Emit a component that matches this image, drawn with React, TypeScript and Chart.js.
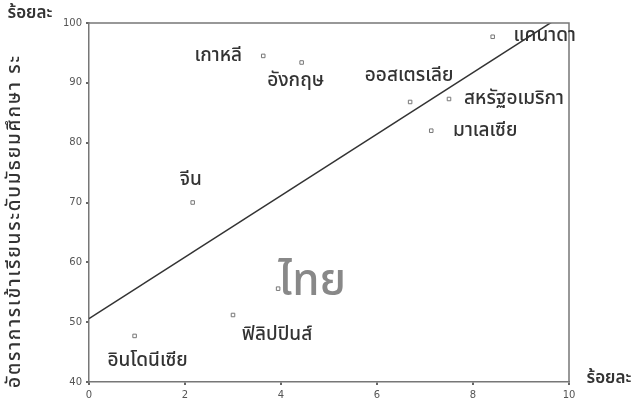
import React, { useEffect, useRef } from "react";
import { Chart, registerables } from "chart.js";

Chart.register(...registerables);

const countries = ["เกาหลี", "อังกฤษ", "จีน", "ไทย", "ฟิลิปปินส์", "อินโดนีเซีย", "แคนาดา", "ออสเตรเลีย", "สหรัฐอเมริกา", "มาเลเซีย"];
const xValues = [3.63, 4.43, 2.16, 3.94, 3.0, 0.95, 8.41, 6.69, 7.5, 7.13];
const yValues = [94.5, 93.4, 70.0, 55.6, 51.2, 47.7, 97.7, 86.8, 87.3, 82.0];
const trendX = [0, 9.65];
const trendY = [50.6, 100.2];
const xTicks = [0, 2, 4, 6, 8, 10];
const yTicks = [40, 50, 60, 70, 80, 90, 100];
const unitLabel = "ร้อยละ";
const yTitle = "อัตราการเข้าเรียนระดับมัธยมศึกษา ระ";

// label layout: pixel offsets of label centre from its point
const labelDx = [-45, -6, -2, 34, 44, 13, 52, -1, 65, 54];
const labelDy = [1, 20, -21, -3, 21, 26, 0, -25, 1, 1];

const THAI = "'Noto Sans Thai', 'Noto Sans', 'DejaVu Sans', sans-serif";

const labelPlugin = {
  id: "labels",
  afterDraw(chart: any) {
    const { ctx, chartArea, scales } = chart;
    ctx.save();
    ctx.strokeStyle = "#777";
    ctx.lineWidth = 1.5;
    ctx.beginPath();
    ctx.moveTo(chartArea.left, chartArea.top);
    ctx.lineTo(chartArea.right, chartArea.top);
    ctx.lineTo(chartArea.right, chartArea.bottom);
    ctx.stroke();
    ctx.textAlign = "center";
    ctx.textBaseline = "middle";
    countries.forEach((name, i) => {
      const px = scales.x.getPixelForValue(xValues[i]);
      const py = scales.y.getPixelForValue(yValues[i]);
      if (name === "ไทย") {
        ctx.fillStyle = "#888";
        ctx.font = `500 44px ${THAI}`;
      } else {
        ctx.fillStyle = "#333";
        ctx.font = `500 19px ${THAI}`;
      }
      ctx.fillText(name, px + labelDx[i], py + labelDy[i]);
    });
    ctx.fillStyle = "#333";
    ctx.font = `600 17px ${THAI}`;
    ctx.fillText(unitLabel, 30, 15);
    ctx.fillText(unitLabel, 609, 380);
    ctx.translate(16, 221);
    ctx.rotate(-Math.PI / 2);
    ctx.font = `500 19px ${THAI}`;
    (ctx as any).letterSpacing = "1.8px";
    ctx.fillText(yTitle, 0, 0);
    ctx.restore();
  },
};

export default function App() {
  const ref = useRef<HTMLCanvasElement>(null);
  useEffect(() => {
    document.body.style.margin = "0";
    const chart = new Chart(ref.current!, {
      type: "scatter",
      data: {
        datasets: [
          {
            data: xValues.map((x, i) => ({ x, y: yValues[i] })),
            pointStyle: "rect",
            radius: 2.5,
            borderColor: "#777",
            borderWidth: 1,
            backgroundColor: "#fff",
            showLine: false,
          },
          {
            data: trendX.map((x, i) => ({ x, y: trendY[i] })),
            showLine: true,
            borderColor: "#333",
            borderWidth: 1.5,
            pointRadius: 0,
            fill: false,
          } as any,
        ],
      },
      options: {
        animation: false,
        responsive: false,
        devicePixelRatio: 1,
        layout: { padding: { left: 0, right: 67, top: 23, bottom: 0 } },
        plugins: { legend: { display: false }, tooltip: { enabled: false } },
        scales: {
          x: {
            type: "linear",
            min: 0,
            max: 10,
            afterBuildTicks: (s: any) => { s.ticks = xTicks.map((v) => ({ value: v })); },
            afterFit: (s: any) => { s.height = 23; },
            grid: { display: true, drawOnChartArea: false, drawTicks: true, tickLength: 3, color: "#666", lineWidth: 2 },
            border: { display: true, color: "#777", width: 1.5 },
            ticks: { color: "#555", font: { size: 10, family: "'DejaVu Sans', sans-serif" }, padding: 4 },
          },
          y: {
            type: "linear",
            min: 40,
            max: 100,
            afterBuildTicks: (s: any) => { s.ticks = yTicks.map((v) => ({ value: v })); },
            afterFit: (s: any) => { s.width = 89; },
            grid: { display: true, drawOnChartArea: false, drawTicks: true, tickLength: 3, color: "#666", lineWidth: 2 },
            border: { display: true, color: "#777", width: 1.5 },
            ticks: { color: "#555", font: { size: 10, family: "'DejaVu Sans', sans-serif" }, padding: 4 },
          },
        },
      },
      plugins: [labelPlugin],
    });
    return () => chart.destroy();
  }, []);
  return <canvas ref={ref} width={636} height={405} style={{ display: "block" }} />;
}
